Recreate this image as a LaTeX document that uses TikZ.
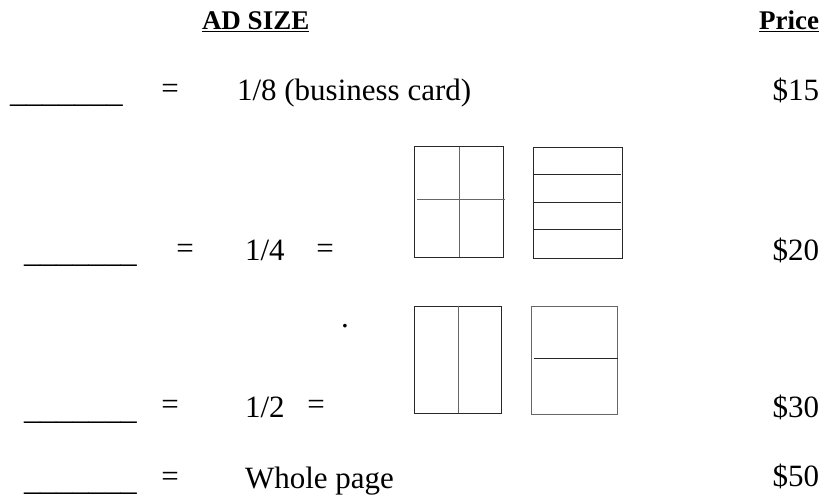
\documentclass[tikz,border=0pt]{standalone}
\usepackage{fontspec}
\setmainfont{Liberation Serif}
\definecolor{FormInk}{RGB}{40,40,40}
\def\FormGray{black!60}

\begin{document}
\begin{tikzpicture}[x=1pt, y=-1pt,
  every node/.style={inner sep=0pt, outer sep=0pt, font=\fontsize{31}{36}\selectfont},
  head/.style={font=\fontsize{27}{31}\selectfont\bfseries},
  panel/.style={draw=FormInk, line width=1pt},
  split/.style={draw=\FormGray, line width=1pt}]
  \useasboundingbox (0,0) rectangle (826,497);
  % headings
  \node[head, anchor=base west] (size) at (202,30) {\underline{AD SIZE}};
  \node[head, anchor=base east] (price) at (819,30) {\underline{Price}};
  % blanks to fill in
  \foreach \i/\x/\y in {1/10/103, 2/24/262, 3/24/419, 4/24/490} {
    \node[anchor=base west, xscale=1.04] (blank\i) at (\x,\y) {\_\_\_\_\_\_\_};
  }
  % row 1
  \node[anchor=base] (eq1) at (170,99) {=};
  \node[anchor=base west] (eighth) at (237,101) {1/8 (business card)};
  \node[anchor=base east] (cost1) at (819,101) {\$15};
  % row 2
  \node[anchor=base] (eq2) at (185,258) {=};
  \node[anchor=base west] (quarter) at (245,260) {1/4};
  \node[anchor=base] (eq2b) at (325,258) {=};
  \node[anchor=base east] (cost2) at (819,260) {\$20};
  % row 3
  \node[anchor=base] (eq3) at (170,414) {=};
  \node[anchor=base west] (half) at (245,417) {1/2};
  \node[anchor=base] (eq3b) at (316,414) {=};
  \node[anchor=base east] (cost3) at (819,417) {\$30};
  % row 4
  \node[anchor=base] (eq4) at (170,486) {=};
  \node[anchor=base west] (whole) at (245,488) {Whole page};
  \node[anchor=base east] (cost4) at (819,486) {\$50};
  % stray dot
  \node[anchor=base] (dot) at (345,327) {.};
  % quarter page layouts
  \draw[panel] (414,147) rectangle (503,257);
  \draw[split] (459,147) -- (459,257);
  \draw[split] (417,199) -- (505,199);
  \draw[panel] (533,148) rectangle (622,258);
  \foreach \y in {174,202,229} {
    \draw[panel] (533,\y) -- (621,\y);
  }
  % half page layouts
  \draw[panel] (414,306) rectangle (501,413);
  \draw[split] (458,306) -- (458,413);
  \draw[split] (531,306) rectangle (617,414);
  \draw[panel] (534,358) -- (618,358);
\end{tikzpicture}
\end{document}
